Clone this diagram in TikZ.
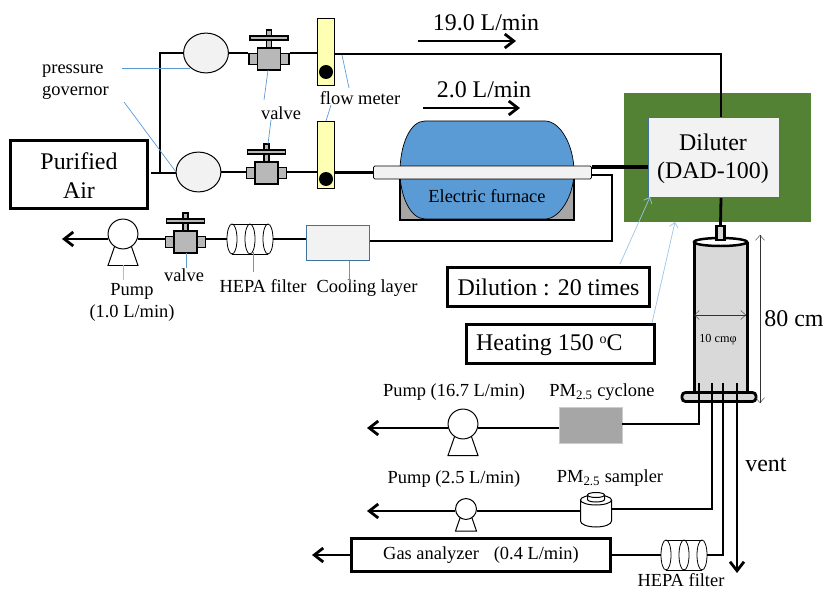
\documentclass[tikz,border=0pt]{standalone}
\usepackage{fontspec}
\setmainfont{Liberation Serif}
\usetikzlibrary{arrows.meta,shapes.geometric}
\definecolor{leadblue}{HTML}{5B9BD5}
\definecolor{paleblue}{HTML}{9DC3E6}
\definecolor{edgeblue}{HTML}{41719C}
\definecolor{ovengreen}{HTML}{548235}
\definecolor{meteryellow}{HTML}{FFFFB3}
\tikzset{
	pipe/.style={line width=2.8pt},
	flow/.style={line width=2.8pt, -{Straight Barb[length=9pt,width=14pt,line width=2.8pt]}},
	lead/.style={leadblue, line width=0.7pt},
	leadarrow/.style={paleblue, line width=0.7pt, -{Straight Barb[length=5pt,width=9pt]}},
	dim/.style={line width=0.4pt, black!80, {Straight Barb[length=5pt,width=9pt]}-{Straight Barb[length=5pt,width=9pt]}},
	small/.style={font=\fontsize{18.5}{22}\selectfont, inner sep=0pt},
	big/.style={font=\fontsize{24}{28}\selectfont, inner sep=0pt},
	framed/.style={draw, line width=3pt, inner sep=0pt},
	part/.style={draw, line width=1.2pt, fill=black!28, inner sep=0pt},
	governor/.style={draw, ellipse, line width=1pt, fill=black!5, minimum width=45, minimum height=40, inner sep=0pt},
	meter/.style={draw, line width=1pt, fill=meteryellow, minimum width=18, minimum height=68, inner sep=0pt},
}
% valve: (x,y)(name)
\def\valve(#1,#2)(#3){
	\begin{scope}[shift={(#1,#2)}]
		\draw[part] (-2.5,-29) rectangle (2.5,-11);
		\draw[part] (-19,-23) rectangle (19,-19);
		\node[part, minimum width=9, minimum height=11] (#3l) at (-15.5,0) {};
		\node[part, minimum width=9, minimum height=11] (#3r) at (15.5,0) {};
		\node[part, minimum width=23, minimum height=22] (#3) at (0,0) {};
	\end{scope}
}
% pump: (x,y)(radius)(name)
\def\pump(#1,#2)(#3)(#4){
	\begin{scope}[shift={(#1,#2)}]
		\draw[line width=1pt] ({-0.55*#3},{0.8*#3}) -- ({-#3},{2.1*#3}) -- ({#3},{2.1*#3}) -- ({0.55*#3},{0.8*#3});
		\node[draw, circle, line width=1pt, fill=white, minimum size={2*#3}, inner sep=0pt] (#4) at (0,0) {};
	\end{scope}
}
% hepa filter: (x,y)(name)
\def\hepa(#1,#2)(#3){
	\begin{scope}[shift={(#1,#2)}]
		\draw[line width=0.8pt] (-18,-15) -- (18,-15);
		\draw[line width=0.8pt] (-18,15) -- (18,15);
		\foreach \ex in {-18,0,18}
			\draw[line width=0.8pt] (\ex,0) ellipse (5 and 15);
		\node[minimum width=46, minimum height=30, inner sep=0pt] (#3) at (0,0) {};
	\end{scope}
}

\begin{document}
\begin{tikzpicture}[x=1bp, y=-1bp]
	\useasboundingbox (0,0) rectangle (825,590);

	%%%%% heating box and diluter %%%%%
	\fill[ovengreen] (624,93) rectangle (811,222);
	\node[draw=edgeblue, line width=0.9pt, fill=black!5, minimum width=132, minimum height=81, inner sep=0pt] (diluter) at (714,157.5) {};
	\node[big] (dilutertxt) at (713,159) {\begin{tabular}{c}Diluter\\(DAD-100)\end{tabular}};

	%%%%% furnace %%%%%
	\draw[line width=2.8pt, fill=black!35] (400,172) rectangle (574,220);
	\draw[line width=0.7pt, fill=leadblue] (425,121) -- (545,121) .. controls (560,121) and (574,145) .. (574,172) .. controls (574,195) and (560,219) .. (545,219) -- (425,219) .. controls (410,219) and (400,195) .. (400,172) .. controls (400,145) and (410,121) .. (425,121) -- cycle;
	\node[draw, line width=0.8pt, rounded corners=1.5pt, fill=black!5, minimum width=219, minimum height=13, inner sep=0pt] (tube) at (482.5,172.5) {};
	\node[small] (furnace) at (487,196) {Electric furnace};

	%%%%% upper lines %%%%%
	\node[framed, minimum width=137, minimum height=69] (air) at (79,174.5) {};
	\node[big, font=\fontsize{24}{29}\selectfont] (airtxt) at (79,178) {\begin{tabular}{c}Purified\\Air\end{tabular}};
	\node[governor] (govup) at (206,53) {};
	\node[governor] (govlow) at (198.5,172) {};
	\valve(269,59)(valveup)
	\valve(266.5,173)(valvelow)
	\node[meter] (meterup) at (326,52) {};
	\node[meter] (meterlow) at (326,155) {};
	\fill (326,72) circle (7);
	\fill (326,179) circle (7);
	\coordinate (airout) at (151,173);
	\coordinate (branch) at (160,173);
	\coordinate (topbend) at (721,54);

	\draw[pipe] (airout) -- (govlow.west |- airout);
	\draw[pipe] (branch) -- (branch |- govup.west) -- (govup.west);
	\draw[pipe] (govup.east) -- (valveupl.west |- govup.east);
	\draw[pipe] (valveupr.east |- govup.east) -- (meterup.west |- govup.east);
	\draw[pipe] (meterup.east |- topbend) -- (topbend) -- (diluter.north -| topbend);
	\draw[pipe] (govlow.east) -- (valvelowl.west |- govlow.east);
	\draw[pipe] (valvelowr.east |- govlow.east) -- (meterlow.west |- govlow.east);
	\draw[pipe] (meterlow.east |- tube.west) -- (tube.west);
	\draw[line width=3.5pt] (tube.east |- 0,167) -- (diluter.west |- 0,167);

	\draw[flow] (418,41) -- (516,41);
	\node[big] (flowup) at (486,23) {19.0 L/min};
	\draw[flow] (423,108) -- (520,108);
	\node[big] (flowlow) at (484,90) {2.0 L/min};

	%%%%% return line %%%%%
	\node[draw=edgeblue, line width=0.9pt, fill=black!5, minimum width=64, minimum height=36, inner sep=0pt] (cooling) at (338,243) {};
	\hepa(250,239)(hepaup)
	\valve(185.5,242)(valvepump)
	\pump(123,234)(15)(pumpup)
	\coordinate (pumpout) at (62,239);
	\coordinate (retbend) at (612,241);
	\draw[pipe] (592,175) -- (retbend |- 0,175) -- (retbend) -- (cooling.east |- retbend);
	\draw[pipe] (cooling.west |- hepaup.east) -- (hepaup.east);
	\draw[pipe] (hepaup.west) -- (valvepumpr.east |- hepaup.west);
	\draw[pipe] (valvepumpl.west |- hepaup.west) -- (pumpup.east |- hepaup.west);
	\draw[flow] (pumpup.west |- pumpout) -- (pumpout);

	%%%%% sampling column %%%%%
	\draw[line width=3pt, fill=black!15] (694,242) -- (694,395) -- (747,395) -- (747,242);
	\draw[line width=2.5pt, fill=white] (720.5,242) ellipse (26.5 and 4);
	\draw[line width=2.8pt, fill=black!15, rounded corners=3.5pt] (682,392.5) rectangle (756,401.5);
	\node[draw, line width=2.5pt, fill=black!15, minimum width=8, minimum height=14, inner sep=0pt] (inlet) at (720.5,233) {};
	\draw[pipe] (721,198) -- (inlet.north);
	\draw[dim] (694,315) -- (746,315);
	\draw[dim] (760,235) -- (760,403);
	\node[font=\fontsize{12.3}{14}\selectfont, inner sep=0pt] (bore) at (718,340) {10 cmφ};
	\node[big] (height) at (794,319) {80 cm};

	%%%%% sampling lines %%%%%
	\node[fill=black!35, draw=black!20, line width=0.5pt, minimum width=63, minimum height=36, inner sep=0pt] (cyclone) at (590.5,425) {};
	\pump(463,424)(15)(pumpcyc)
	\coordinate (cycout) at (367,428);
	\draw[pipe] (699,383) -- (699,424) -- (cyclone.east |- 0,424);
	\draw[pipe] (cyclone.west |- cycout) -- (pumpcyc.east |- cycout);
	\draw[flow] (pumpcyc.west |- cycout) -- (cycout);

	\draw[line width=1pt, fill=white] (580.5,500) -- (580.5,521) arc (180:0:15.5 and 6) -- (611.5,500);
	\draw[line width=1pt, fill=white] (596,500) ellipse (15.5 and 5);
	\draw[line width=1pt, fill=white] (587.5,495) -- (587.5,499.5) arc (180:0:8.5 and 2.5) -- (604.5,495);
	\draw[line width=1pt, fill=white] (596,495) ellipse (8.5 and 2.5);
	\node[minimum width=31, minimum height=36, inner sep=0pt] (sampler) at (596,511) {};
	\pump(466,509)(10.5)(pumpsam)
	\coordinate (samout) at (367,511);
	\draw[pipe] (712,383) -- (712,509) -- (sampler.east |- 0,509);
	\draw[pipe] (sampler.west) -- (pumpsam.east |- sampler.west);
	\draw[flow] (pumpsam.west |- samout) -- (samout);

	\node[framed, line width=2.8pt, minimum width=260, minimum height=33, small] (analyzer) at (481,555) {Gas analyzer\hspace{15pt}(0.4 L/min)};
	\hepa(684,555)(hepalow)
	\coordinate (gasout) at (312,555);
	\draw[pipe] (723,383) -- (723,555) -- (hepalow.east);
	\draw[pipe] (hepalow.west) -- (analyzer.east);
	\draw[flow] (analyzer.west) -- (gasout);
	\coordinate (venttop) at (737,383);
	\coordinate (ventend) at (737,573);
	\draw[flow] (venttop) -- (ventend);
	\node[big] (vent) at (766,465) {vent};

	%%%%% info boxes %%%%%
	\node[framed, minimum width=203, minimum height=39, big] (dilution) at (548.5,287) {Dilution : 20 times};
	\node[framed, minimum width=189, minimum height=40] (heating) at (560.5,344) {};
	\node[big, anchor=west] (heatingtxt) at (476,345) {Heating 150 \raisebox{7pt}{\fontsize{14}{14}\selectfont o}C};
	\draw[leadarrow] (620,264) -- (650,197);
	\draw[leadarrow] (652,323) -- (675,222);

	%%%%% labels %%%%%
	\node[small, align=left, anchor=west] (govtxt) at (42,82) {pressure\\governor};
	\node[small] (valvetxt) at (281,113) {valve};
	\node[small] (metertxt) at (360,98) {flow meter};
	\node[small] (valvepumptxt) at (184,275) {valve};
	\node[small] (hepauptxt) at (263,286) {HEPA filter};
	\node[small] (coolingtxt) at (367,288) {Cooling layer};
	\node[small] (pumptxt) at (132,302) {\begin{tabular}{c}Pump\\(1.0 L/min)\end{tabular}};
	\node[small] (pumpcyctxt) at (454,392) {Pump (16.7 L/min)};
	\node[small] (cyctxt) at (602,392) {PM\textsubscript{2.5} cyclone};
	\node[small] (pumpsamtxt) at (454,479) {Pump (2.5 L/min)};
	\node[small] (samtxt) at (610,478) {PM\textsubscript{2.5} sampler};
	\node[small, anchor=base] (hepalowtxt) at (681,586) {HEPA filter};

	\draw[lead] (122,68) -- (190,68);
	\draw[lead] (124,102) -- (176,172);
	\draw[lead] (268,70) -- (264,100);
	\draw[lead] (271,120) -- (268,144);
	\draw[lead] (342,55) -- (349,88);
	\draw[lead] (331,105) -- (326,121);
	\draw[lead] (349,261) -- (349,283);
	\draw[lead] (253,252) -- (253,272);
	\draw[lead] (186,253) -- (186,268);
	\draw[paleblue, line width=1pt] (123,265) -- (123,280);
\end{tikzpicture}
\end{document}
